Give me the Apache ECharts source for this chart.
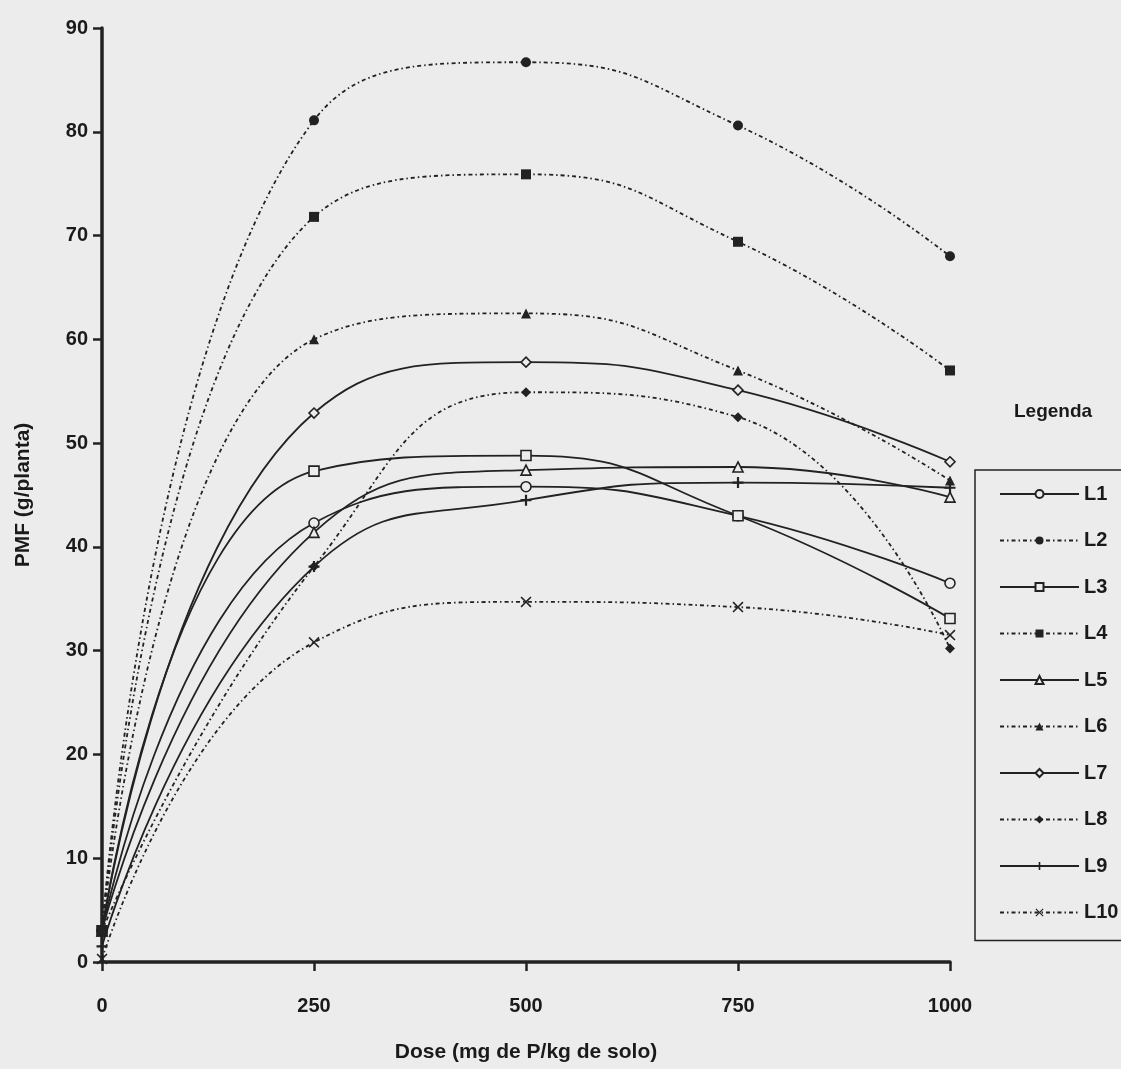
<!DOCTYPE html>
<html>
<head>
<meta charset="utf-8">
<script src="https://cdn.jsdelivr.net/npm/echarts@6/dist/echarts.min.js"></script>
<style>
html,body{margin:0;padding:0;background:#ececec;}
#chart{width:1121px;height:1069px;}
</style>
</head>
<body>
<div id="chart"></div>
<script>
// Doses (mg de P/kg de solo)
var doses = [0, 250, 500, 750, 1000];
var xTicks = [0, 250, 500, 750, 1000];
var yTicks = [0, 10, 20, 30, 40, 50, 60, 70, 80, 90];
var seriesNames = ['L1','L2','L3','L4','L5','L6','L7','L8','L9','L10'];
// PMF (g/planta) per line
var L1  = [3.0, 42.3, 45.8, 43.0, 36.5];
var L2  = [3.0, 81.1, 86.7, 80.6, 68.0];
var L3  = [3.0, 47.3, 48.8, 43.0, 33.1];
var L4  = [3.0, 71.8, 75.9, 69.4, 57.0];
var L5  = [3.0, 41.4, 47.4, 47.7, 44.8];
var L6  = [3.0, 60.0, 62.5, 57.0, 46.4];
var L7  = [3.0, 52.9, 57.8, 55.1, 48.2];
var L8  = [3.0, 38.1, 54.9, 52.5, 30.2];
var L9  = [1.5, 38.1, 44.5, 46.2, 45.7];
var L10 = [0.3, 30.8, 34.7, 34.2, 31.5];
var values = [L1, L2, L3, L4, L5, L6, L7, L8, L9, L10];

var INK = '#222222';
var BG = '#ececec';
var FONT = '"Liberation Sans", Arial, sans-serif';
var PLUS = 'path://M4,0H6V4H10V6H6V10H4V6H0V4H4Z';
var CROSS = 'path://M1,0L5,4L9,0L10,1L6,5L10,9L9,10L5,6L1,10L0,9L4,5L0,1Z';
var symbols = ['circle','circle','rect','rect','triangle','triangle','diamond','diamond',PLUS,CROSS];
var filled  = [false,true,false,true,false,true,false,true,true,true];

var series = seriesNames.map(function(name, i){
  var dashed = (i % 2 === 1);
  return {
    name: name,
    type: 'line',
    smooth: 0.5,
    data: doses.map(function(d, k){ return [d, values[i][k]]; }),
    symbol: symbols[i],
    symbolSize: (i >= 8) ? 11 : 10,
    showSymbol: true,
    lineStyle: { color: INK, width: 1.8, type: dashed ? [4,3,1.5,3] : 'solid' },
    itemStyle: {
      color: filled[i] ? INK : BG,
      borderColor: INK,
      borderWidth: filled[i] ? 0 : 1.6
    },
    z: 3
  };
});

var chart = echarts.init(document.getElementById('chart'), null, {renderer:'canvas'});
chart.setOption({
  backgroundColor: BG,
  animation: false,
  grid: { left: 102, right: 171, top: 28, bottom: 107, containLabel: false, outerBoundsMode: 'none' },
  xAxis: {
    type: 'value', min: 0, max: 1000, interval: 250,
    name: 'Dose (mg de P/kg de solo)', nameLocation: 'middle', nameGap: 80,
    nameTextStyle: { fontFamily: FONT, fontWeight: 'bold', fontSize: 21, color: '#1a1a1a' },
    axisLine: { show: true, onZero: false, lineStyle: { color: INK, width: 3.5 } },
    axisTick: { show: true, length: 9, lineStyle: { color: INK, width: 2.5 } },
    axisLabel: { fontFamily: FONT, fontWeight: 'bold', fontSize: 20, color: '#1a1a1a', margin: 34,
      formatter: function(v){ return xTicks.indexOf(v) >= 0 ? String(v) : ''; } },
    splitLine: { show: false }
  },
  yAxis: {
    type: 'value', min: 0, max: 90, interval: 10,
    name: 'PMF (g/planta)', nameLocation: 'middle', nameGap: 68,
    nameTextStyle: { fontFamily: FONT, fontWeight: 'bold', fontSize: 21, color: '#1a1a1a' },
    axisLine: { show: true, onZero: false, lineStyle: { color: INK, width: 3.5 } },
    axisTick: { show: true, length: 9, lineStyle: { color: INK, width: 2.5 } },
    axisLabel: { fontFamily: FONT, fontWeight: 'bold', fontSize: 20, color: '#1a1a1a', margin: 14,
      formatter: function(v){ return yTicks.indexOf(v) >= 0 ? String(v) : ''; } },
    splitLine: { show: false }
  },
  legend: {
    orient: 'vertical',
    left: 975, top: 470,
    data: seriesNames,
    backgroundColor: BG,
    borderColor: INK, borderWidth: 1.5,
    padding: [14, 40, 18, 24],
    itemWidth: 79, itemHeight: 10, itemGap: 26.5,
    textStyle: { fontFamily: FONT, fontWeight: 'bold', fontSize: 20, color: '#1a1a1a' }
  },
  graphic: [{
    type: 'text', left: 1014, top: 402,
    style: { text: 'Legenda', font: 'bold 19px ' + FONT, fill: '#1a1a1a' }
  }],
  series: series
});
</script>
</body>
</html>
